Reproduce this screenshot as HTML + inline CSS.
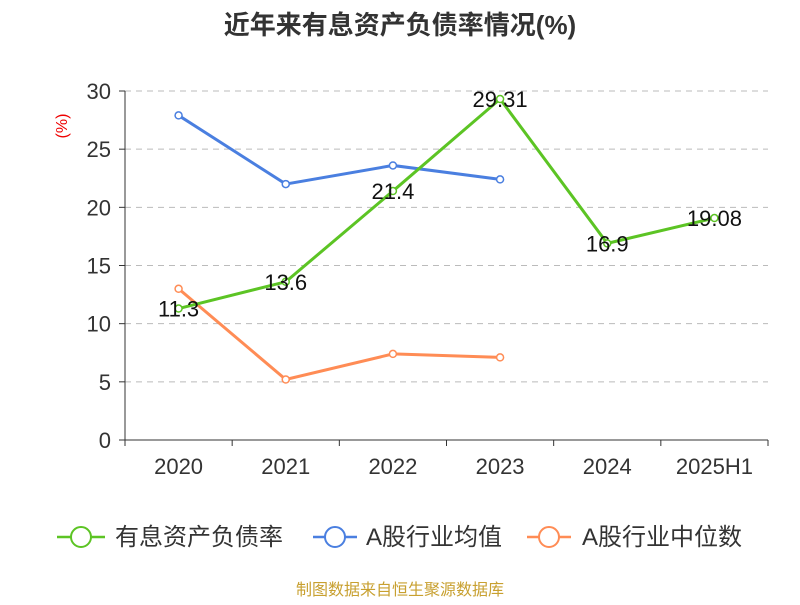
<!DOCTYPE html>
<html><head><meta charset="utf-8"><style>
body{margin:0;background:#fff;}
svg text{font-family:"Liberation Sans","Noto Sans CJK SC",sans-serif;}
</style></head><body>
<svg id="chart" width="800" height="600" xmlns="http://www.w3.org/2000/svg">
<text x="400" y="34" text-anchor="middle" font-size="26" font-weight="bold" fill="#333">近年来有息资产负债率情况(%)</text>
<text transform="translate(67,126) rotate(-90)" text-anchor="middle" font-size="16" fill="#e00">(%)</text>
<g id="grid"></g><g id="axes"></g><g id="series"></g>
<g>
 <g><line x1="57" y1="537" x2="105" y2="537" stroke="#5cc424" stroke-width="2.5"/><circle cx="81" cy="537" r="10" fill="#fff" stroke="#5cc424" stroke-width="2"/><text x="115" y="545" font-size="24" fill="#333">有息资产负债率</text></g>
 <g><line x1="313" y1="537" x2="357" y2="537" stroke="#4a7fe0" stroke-width="2.5"/><circle cx="335" cy="537" r="10" fill="#fff" stroke="#4a7fe0" stroke-width="2"/><text x="366" y="545" font-size="24" fill="#333">A股行业均值</text></g>
 <g><line x1="527" y1="537" x2="571" y2="537" stroke="#ff8c55" stroke-width="2.5"/><circle cx="549" cy="537" r="10" fill="#fff" stroke="#ff8c55" stroke-width="2"/><text x="582" y="545" font-size="24" fill="#333">A股行业中位数</text></g>
</g>
<text x="400" y="595" text-anchor="middle" font-size="16" fill="#c8a030">制图数据来自恒生聚源数据库</text>
</svg>
<script>
const categories=["2020","2021","2022","2023","2024","2025H1"];
const debtRatio=[11.3,13.6,21.4,29.31,16.9,19.08];
const industryMean=[27.9,22.0,23.6,22.4,null,null];
const industryMedian=[13.0,5.2,7.4,7.1,null,null];
const yTicks=[0,5,10,15,20,25,30];
const NS="http://www.w3.org/2000/svg";
const x0=125,x1=768,yb=440,yt=91,ymax=30;
const bw=(x1-x0)/categories.length;
const X=i=>x0+bw*(i+0.5);
const Y=v=>yb-(v/ymax)*(yb-yt);
function mk(t,a,p){const e=document.createElementNS(NS,t);for(const k in a)e.setAttribute(k,a[k]);p.appendChild(e);return e;}
const grid=document.getElementById('grid'),axes=document.getElementById('axes'),ser=document.getElementById('series');
yTicks.forEach(v=>{
 if(v>0){const g=mk('line',{x1:x0,x2:x1,y1:Y(v),y2:Y(v),stroke:'#bbb','stroke-dasharray':'6,5'},grid);
 
 }
 mk('line',{x1:x0-6,x2:x0,y1:Y(v),y2:Y(v),stroke:'#333'},axes);
 const t=mk('text',{x:x0-14,y:Y(v)+8,'text-anchor':'end','font-size':22,fill:'#333'},axes);t.textContent=v;
 
 
});
mk('line',{x1:x0,x2:x0,y1:yt,y2:yb,stroke:'#333'},axes);
mk('line',{x1:x0,x2:x1,y1:yb,y2:yb,stroke:'#333'},axes);
for(let i=0;i<=categories.length;i++)mk('line',{x1:x0+bw*i,x2:x0+bw*i,y1:yb,y2:yb+6,stroke:'#333'},axes);
categories.forEach((c,i)=>{const t=mk('text',{x:X(i),y:yb+34,'text-anchor':'middle','font-size':22,fill:'#333'},axes);t.textContent=c;
 
 });
function draw(vals,color,name,labels){
 const pts=vals.map((v,i)=>v==null?null:[X(i),Y(v)]).filter(p=>p);
 const pl=mk('polyline',{points:pts.map(p=>p.join(',')).join(' '),fill:'none',stroke:color,'stroke-width':3},ser);
 
 
 vals.forEach((v,i)=>{if(v==null)return;
  const c=mk('circle',{cx:X(i),cy:Y(v),r:3.5,fill:'#fff',stroke:color,'stroke-width':1.5},ser);
  
  
  if(labels){const t=mk('text',{x:X(i),y:Y(v)+8,'text-anchor':'middle','font-size':22,fill:'#111'},ser);t.textContent=v;
   
   }
 });
}
draw(industryMean,'#4a7fe0','industry-mean',false);
draw(industryMedian,'#ff8c55','industry-median',false);
draw(debtRatio,'#5cc424','debt-ratio',true);
</script>
</body></html>
